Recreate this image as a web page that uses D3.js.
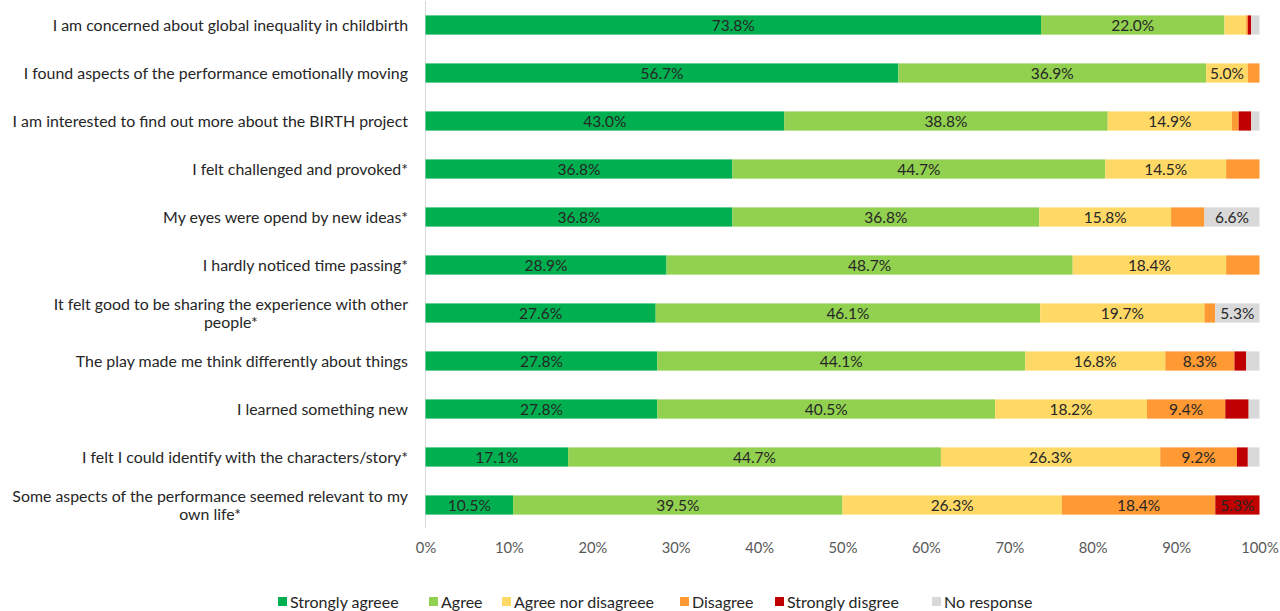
<!DOCTYPE html>
<html><head><meta charset="utf-8">
<script src="https://cdn.jsdelivr.net/npm/d3@7"></script>
<style>
html,body{margin:0;padding:0;background:#fff;}
text{font-family:Lato,"Open Sans",sans-serif;}
</style></head>
<body>
<svg id="chart" width="1280" height="611"></svg>
<script>
const categories = [
  ["I am concerned about global inequality in childbirth"],
  ["I found aspects of the performance emotionally moving"],
  ["I am interested to find out more about the BIRTH project"],
  ["I felt challenged and provoked*"],
  ["My eyes were opend by new ideas*"],
  ["I hardly noticed time passing*"],
  ["It felt good to be sharing the experience with other", "people*"],
  ["The play made me think differently about things"],
  ["I learned something new"],
  ["I felt I could identify with the characters/story*"],
  ["Some aspects of the performance seemed relevant to my", "own life*"]
];
const seriesNames = ["Strongly agreee","Agree","Agree nor disagreee","Disagree","Strongly disgree","No response"];
const stronglyAgree = [73.8,56.7,43.0,36.8,36.8,28.9,27.6,27.8,27.8,17.1,10.5];
const agree         = [22.0,36.9,38.8,44.7,36.8,48.7,46.1,44.1,40.5,44.7,39.5];
const neutral       = [2.6, 5.0,14.9,14.5,15.8,18.4,19.7,16.8,18.2,26.3,26.3];
const disagree      = [0.2, 1.4, 0.8, 4.0, 4.0, 4.0, 1.3, 8.3, 9.4, 9.2,18.4];
const stronglyDis   = [0.4, 0.0, 1.5, 0.0, 0.0, 0.0, 0.0, 1.4, 2.8, 1.3, 5.3];
const noResponse    = [1.0, 0.0, 1.0, 0.0, 6.6, 0.0, 5.3, 1.6, 1.3, 1.4, 0.0];
const tickValues = [0,10,20,30,40,50,60,70,80,90,100];
const colors = ["#00B050","#92D050","#FFD966","#FF9933","#C00000","#D9D9D9"];

const seriesData = [stronglyAgree, agree, neutral, disagree, stronglyDis, noResponse];
const rows = categories.map((c,i)=>{
  const o = {idx:i};
  seriesNames.forEach((s,j)=>o[s]=seriesData[j][i]);
  return o;
});

const svg = d3.select("#chart");
const x = d3.scaleLinear().domain([0,100]).range([425.5,1259.5]);
const y = d3.scaleBand().domain(d3.range(categories.length)).range([1,529]).paddingInner(0.6).paddingOuter(0.3);
const color = d3.scaleOrdinal().domain(seriesNames).range(colors);

const stack = d3.stack().keys(seriesNames)(rows);

// axis line
svg.append("line").attr("x1",x(0)).attr("x2",x(0)).attr("y1",1).attr("y2",528)
  .attr("stroke","#D9D9D9").attr("stroke-width",1);

const g = svg.append("g");
stack.forEach(layer=>{
  g.append("g").attr("fill",color(layer.key))
    .selectAll("rect").data(layer).join("rect")
    .attr("x",d=>x(d[0])).attr("width",d=>Math.max(0,x(d[1])-x(d[0])))
    .attr("y",(d,i)=>y(i)).attr("height",y.bandwidth());
  g.append("g").selectAll("text").data(layer.filter(d=>d[1]-d[0]>=5)).join("text")
    .attr("x",d=>(x(d[0])+x(d[1]))/2)
    .attr("y",d=>y(d.data.idx)+y.bandwidth()/2)
    .attr("dy","0.36em").attr("text-anchor","middle")
    .attr("font-size",15.5).attr("fill","#262626")
    .text(d=>(d[1]-d[0]).toFixed(1)+"%");
});

// category labels
const LF = 15.9;
const lab = svg.append("g");
categories.forEach((lines,i)=>{
  const cy = y(i)+y.bandwidth()/2;
  const t = lab.append("text").attr("font-size",LF).attr("fill","#262626");
  if(lines.length===1){
    t.attr("x",408).attr("y",cy).attr("dy","0.35em").attr("text-anchor","end").text(lines[0]);
  } else {
    const tmp = lab.append("text").attr("font-size",LF).text(lines[0]);
    const w = tmp.node().getComputedTextLength(); tmp.remove();
    const cx = 408 - w/2;
    lines.forEach((ln,k)=>{
      t.append("tspan").attr("x",cx).attr("y",cy + (k-(lines.length-1)/2)*18).attr("dy","0.35em")
        .attr("text-anchor","middle").text(ln);
    });
  }
});

// x axis
const axis = svg.append("g").attr("transform","translate(0,540)")
  .call(d3.axisBottom(x).tickValues(tickValues).tickFormat(d=>d+"%").tickSize(0));
axis.select(".domain").remove();
axis.selectAll("text").attr("font-size",14.7).attr("fill","#595959").attr("font-family","Lato,sans-serif").attr("dy","0.71em");

// legend
const legendX = [278,429,502,680,775,932];
const leg = svg.append("g").attr("transform","translate(0,602)");
seriesNames.forEach((s,i)=>{
  leg.append("rect").attr("x",legendX[i]).attr("y",-5).attr("width",9).attr("height",9).attr("fill",colors[i]);
  leg.append("text").attr("x",legendX[i]+12).attr("y",0).attr("dy","0.35em")
    .attr("font-size",16).attr("fill","#262626").text(s);
});
</script>
</body></html>
